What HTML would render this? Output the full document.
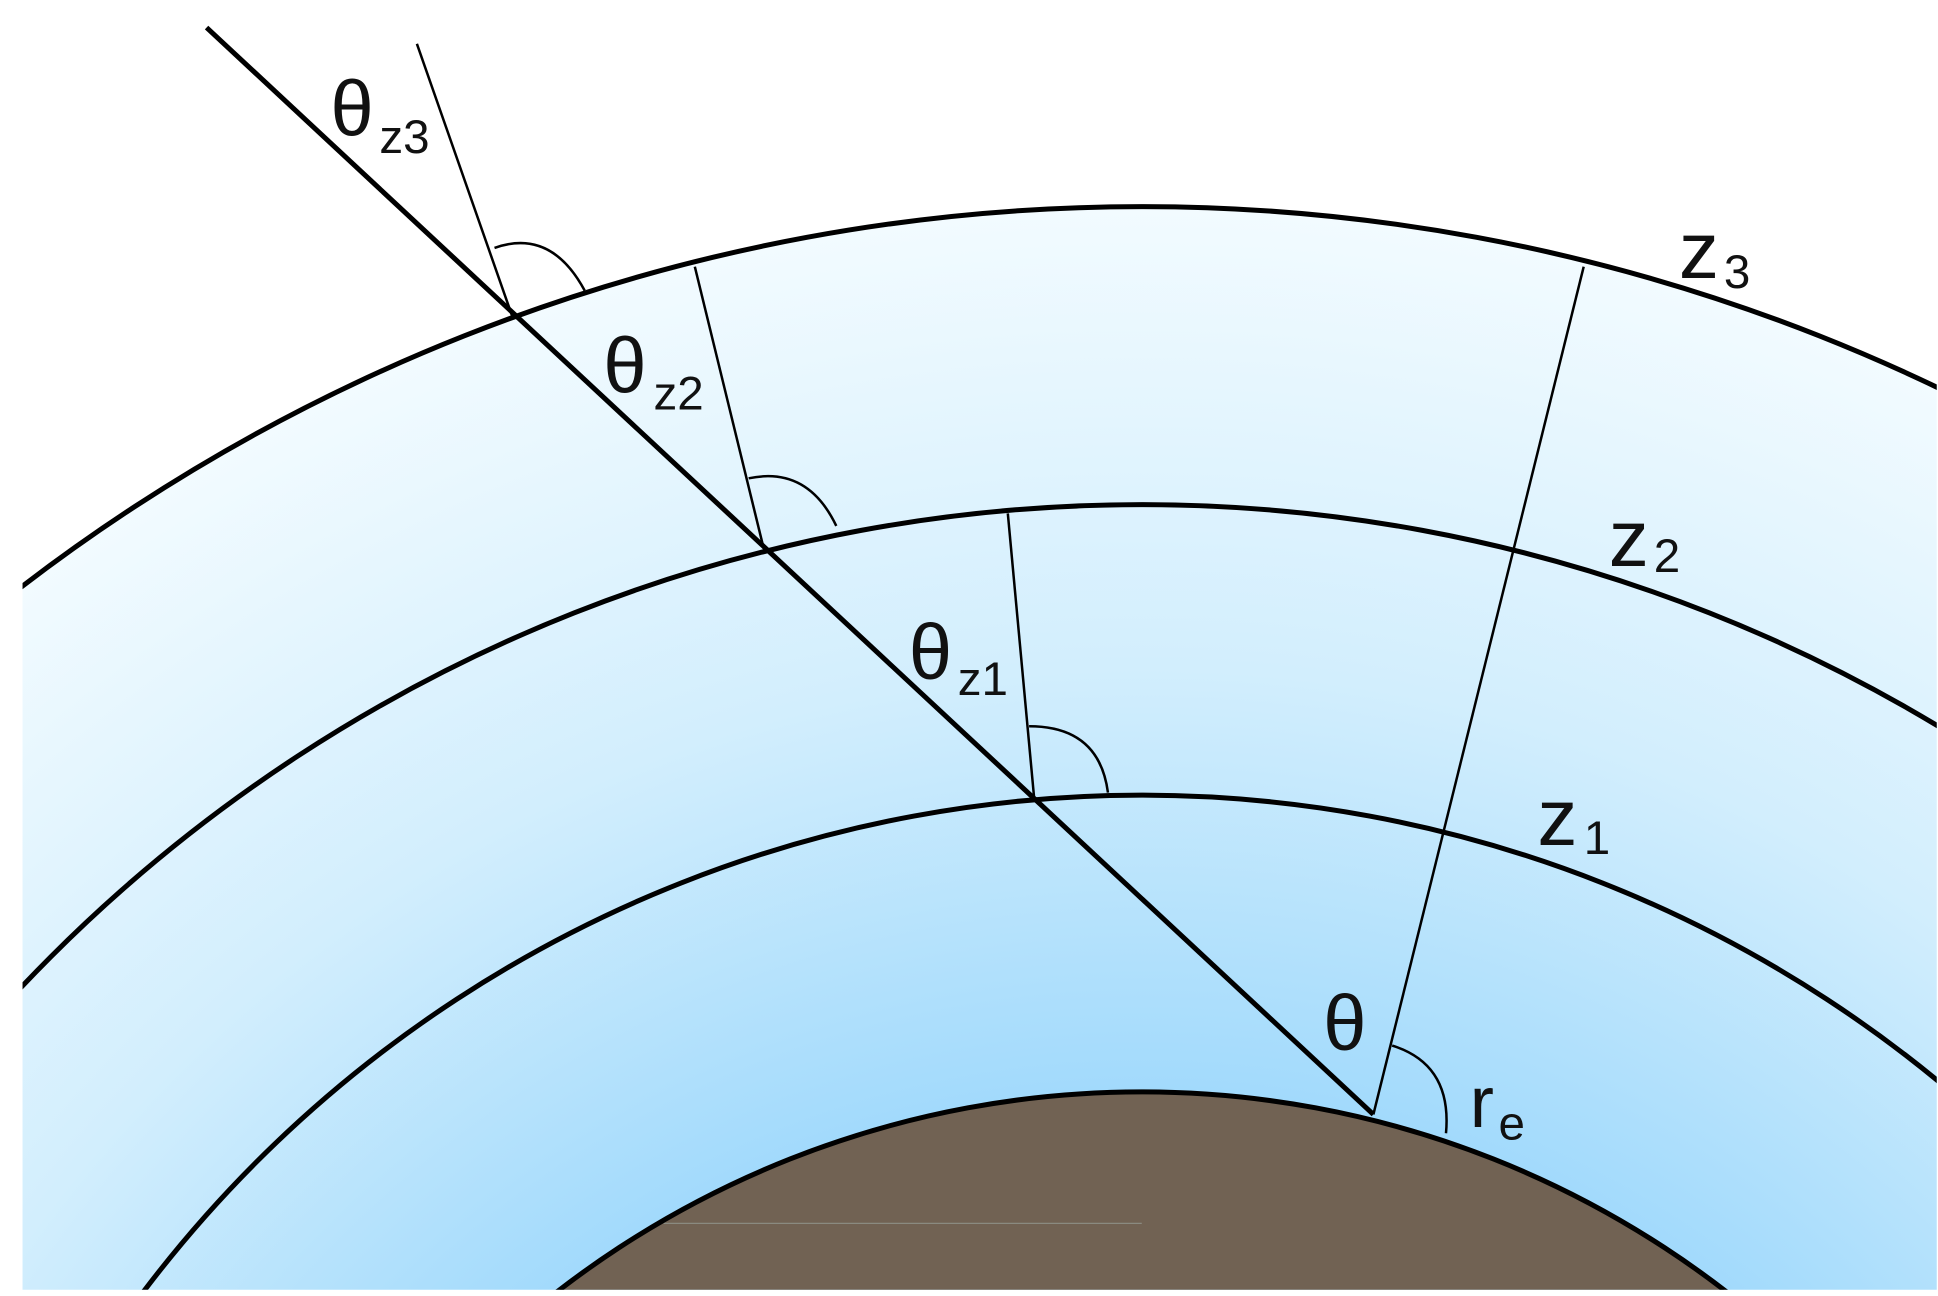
<!DOCTYPE html>
<html><head><meta charset="utf-8"><style>
html,body{margin:0;padding:0;background:#fff;width:1938px;height:1296px;overflow:hidden;}
svg{display:block;position:absolute;left:0;top:0;}
text{font-family:"Liberation Sans","DejaVu Sans",sans-serif;fill:#111;}
</style></head><body>
<svg width="1938" height="1296" viewBox="0 0 1548 1035" preserveAspectRatio="none" xmlns="http://www.w3.org/2000/svg">
<defs>
<clipPath id="c"><rect x="18" y="0" width="1529" height="1030"/></clipPath>
<radialGradient id="g" gradientUnits="userSpaceOnUse" cx="912" cy="1635" r="1470">
<stop offset="0.52" stop-color="#a2dafc"/>
<stop offset="0.75" stop-color="#d2eefd"/>
<stop offset="1" stop-color="#f2fbff"/>
</radialGradient>
</defs>
<g clip-path="url(#c)">
<circle cx="912" cy="1635" r="1470" fill="url(#g)"/>
<circle cx="912" cy="1635" r="763" fill="#716253"/>
<line x1="530" y1="977" x2="912" y2="977" stroke="#8a8a80" stroke-width="1"/>
<g fill="none" stroke="#000" stroke-width="4">
<circle cx="912" cy="1635" r="1470"/>
<circle cx="912" cy="1635" r="1232"/>
<circle cx="912" cy="1635" r="1000"/>
<circle cx="912" cy="1635" r="763"/>
</g>
</g>
<g stroke="#000" fill="none">
<line x1="165" y1="22" x2="1097" y2="890" stroke-width="4"/>
<line x1="333" y1="35" x2="410" y2="255" stroke-width="2"/>
<line x1="555" y1="213" x2="610" y2="438" stroke-width="2"/>
<line x1="805" y1="410" x2="826" y2="637" stroke-width="2"/>
<line x1="1265" y1="213" x2="1097" y2="890" stroke-width="2"/>
<path d="M395,198 Q440,182 467,232" stroke-width="2"/>
<path d="M598,382 Q645,372 668,420" stroke-width="2"/>
<path d="M822,580 Q878,580 885,633" stroke-width="2"/>
<path d="M1112,835 Q1160,850 1155,905" stroke-width="2"/>
</g>
<text x="264" y="108" font-size="62">θ</text><text x="303" y="122" font-size="38">z3</text>
<text x="482" y="313" font-size="62">θ</text><text x="522" y="327" font-size="38">z2</text>
<text x="726" y="542" font-size="62">θ</text><text x="765" y="555" font-size="38">z1</text>
<text x="1057" y="838" font-size="62">θ</text>
<text x="1174" y="900" font-size="58">r</text><text x="1197" y="910" font-size="38">e</text>
<text x="1341" y="222" font-size="64">z</text><text x="1377" y="230" font-size="38">3</text>
<text x="1285" y="452" font-size="64">z</text><text x="1321" y="457" font-size="38">2</text>
<text x="1228" y="675" font-size="64">z</text><text x="1265" y="682" font-size="38">1</text>
</svg>
</body></html>
